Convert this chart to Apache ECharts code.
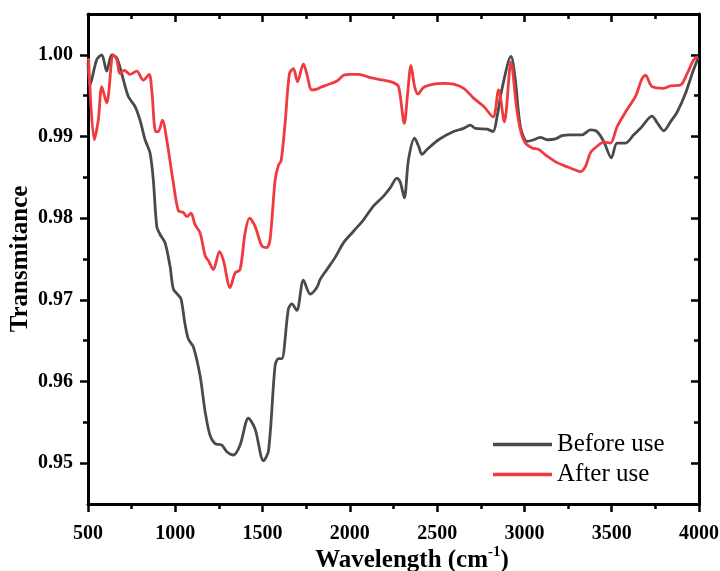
<!DOCTYPE html>
<html>
<head>
<meta charset="utf-8">
<script src="https://cdn.jsdelivr.net/npm/echarts@6/dist/echarts.min.js"></script>
<style>
html,body{margin:0;padding:0;background:#fff;}
#chart{width:720px;height:571px;}
</style>
</head>
<body>
<div id="chart"></div>
<script>
// ---- Data ----
var seriesNames = ['Before use', 'After use'];

var wBefore = [500, 511, 550, 579, 607, 636, 665, 693, 731, 769, 798, 827, 855, 874, 894, 913, 941, 970, 989, 1016, 1033, 1056, 1075, 1104, 1142, 1171, 1199, 1228, 1267, 1295, 1333, 1371, 1419, 1457, 1505, 1534, 1572, 1591, 1610, 1648, 1668, 1696, 1734, 1773, 1811, 1830, 1868, 1916, 1964, 2021, 2078, 2136, 2193, 2231, 2270, 2289, 2312, 2336, 2371, 2394, 2413, 2442, 2508, 2594, 2652, 2690, 2719, 2786, 2820, 2843, 2872, 2923, 2948, 2977, 3015, 3053, 3091, 3130, 3177, 3216, 3263, 3330, 3378, 3416, 3454, 3498, 3531, 3579, 3626, 3665, 3731, 3760, 3798, 3837, 3875, 3923, 3961, 3995];
var tBefore = [0.9990, 0.9963, 0.9994, 1.0000, 0.9980, 1.0000, 0.9996, 0.9977, 0.9949, 0.9937, 0.9920, 0.9896, 0.9880, 0.9847, 0.9790, 0.9780, 0.9770, 0.9741, 0.9713, 0.9706, 0.9701, 0.9670, 0.9652, 0.9642, 0.9607, 0.9563, 0.9534, 0.9524, 0.9522, 0.9514, 0.9510, 0.9522, 0.9555, 0.9542, 0.9503, 0.9515, 0.9620, 0.9628, 0.9628, 0.9689, 0.9695, 0.9687, 0.9724, 0.9707, 0.9715, 0.9725, 0.9737, 0.9752, 0.9770, 0.9784, 0.9798, 0.9815, 0.9827, 0.9837, 0.9849, 0.9844, 0.9825, 0.9872, 0.9898, 0.9888, 0.9878, 0.9884, 0.9896, 0.9906, 0.9910, 0.9914, 0.9910, 0.9909, 0.9906, 0.9924, 0.9959, 0.9998, 0.9969, 0.9912, 0.9894, 0.9896, 0.9899, 0.9896, 0.9897, 0.9901, 0.9902, 0.9902, 0.9908, 0.9906, 0.9894, 0.9874, 0.9892, 0.9892, 0.9902, 0.9910, 0.9925, 0.9917, 0.9907, 0.9918, 0.9930, 0.9953, 0.9977, 0.9996];

var wAfter = [503, 536, 559, 579, 607, 645, 665, 683, 708, 741, 779, 817, 850, 865, 888, 903, 926, 951, 989, 1018, 1046, 1066, 1090, 1113, 1142, 1171, 1190, 1218, 1253, 1276, 1314, 1343, 1371, 1400, 1425, 1457, 1496, 1524, 1543, 1572, 1591, 1606, 1629, 1654, 1677, 1700, 1734, 1753, 1782, 1811, 1830, 1868, 1926, 1964, 2002, 2050, 2117, 2193, 2250, 2279, 2312, 2331, 2350, 2371, 2390, 2422, 2480, 2537, 2594, 2652, 2709, 2766, 2820, 2852, 2885, 2923, 2954, 2977, 3005, 3044, 3082, 3130, 3187, 3244, 3292, 3321, 3349, 3378, 3416, 3454, 3493, 3531, 3588, 3636, 3674, 3693, 3731, 3798, 3837, 3894, 3932, 3970, 3995];
var tAfter = [0.9996, 0.9896, 0.9920, 0.9961, 0.9941, 1.0000, 0.9994, 0.9977, 0.9981, 0.9976, 0.9980, 0.9969, 0.9976, 0.9957, 0.9906, 0.9906, 0.9920, 0.9896, 0.9843, 0.9809, 0.9807, 0.9802, 0.9806, 0.9792, 0.9782, 0.9754, 0.9748, 0.9737, 0.9759, 0.9748, 0.9715, 0.9733, 0.9737, 0.9782, 0.9800, 0.9790, 0.9766, 0.9764, 0.9774, 0.9847, 0.9865, 0.9870, 0.9916, 0.9977, 0.9983, 0.9967, 0.9989, 0.9977, 0.9957, 0.9958, 0.9960, 0.9963, 0.9968, 0.9975, 0.9976, 0.9976, 0.9972, 0.9969, 0.9966, 0.9961, 0.9916, 0.9953, 0.9987, 0.9961, 0.9952, 0.9960, 0.9964, 0.9965, 0.9964, 0.9959, 0.9947, 0.9937, 0.9924, 0.9957, 0.9918, 0.9991, 0.9937, 0.9908, 0.9892, 0.9886, 0.9884, 0.9876, 0.9868, 0.9863, 0.9859, 0.9857, 0.9863, 0.9880, 0.9888, 0.9893, 0.9892, 0.9912, 0.9933, 0.9949, 0.9971, 0.9975, 0.9961, 0.9959, 0.9962, 0.9963, 0.9977, 0.9994, 0.9998];

var yTickValues = [0.95, 0.96, 0.97, 0.98, 0.99, 1.00];
var yMinorValues = [0.955, 0.965, 0.975, 0.985, 0.995];
var xTickLabels = [500, 1000, 1500, 2000, 2500, 3000, 3500, 4000];

// ---- Chart ----
var FONT = '"Liberation Serif", "Times New Roman", serif';
function pairs(xs, ys) { return xs.map(function (x, i) { return [x, ys[i]]; }); }

var chart = echarts.init(document.getElementById('chart'), null, { renderer: 'canvas' });

var axisLine = { show: true, onZero: false, lineStyle: { color: '#000', width: 3 } };

var option = {
  backgroundColor: '#fff',
  animation: false,
  grid: { left: 88, right: 21, top: 14, bottom: 67, containLabel: false, outerBoundsMode: 'none' },
  legend: {
    orient: 'vertical',
    left: 488,
    top: 427,
    icon: 'rect',
    itemWidth: 59,
    itemHeight: 3.5,
    itemGap: 5,
    data: seriesNames,
    textStyle: { fontFamily: FONT, fontSize: 25, color: '#000', lineHeight: 25 }
  },
  xAxis: [
    {
      type: 'value', position: 'bottom', min: 500, max: 4000, interval: 500,
      axisLine: axisLine,
      axisTick: { show: true, inside: false, length: 8, lineStyle: { color: '#000', width: 2.5 } },
      minorTick: { show: true, splitNumber: 2, length: 5, lineStyle: { color: '#000', width: 2.5 } },
      splitLine: { show: false },
      axisLabel: {
        margin: 20, fontFamily: FONT, fontWeight: 'bold', fontSize: 20, color: '#000',
        formatter: function (v) { return xTickLabels.indexOf(v) >= 0 ? String(v) : ''; }
      },
      name: '{a|Wavelength (cm}{s|-1}{a|)}',
      nameLocation: 'middle',
      nameGap: 41,
      nameMoveOverlap: false,
      nameTextStyle: {
        padding: [0, 0, 0, 37],
        rich: {
          a: { fontFamily: FONT, fontWeight: 'bold', fontSize: 25, color: '#000', lineHeight: 28, verticalAlign: 'bottom' },
          s: { fontFamily: FONT, fontWeight: 'bold', fontSize: 15, color: '#000', lineHeight: 15, verticalAlign: 'top' }
        }
      }
    },
    {
      type: 'value', position: 'top', min: 500, max: 4000, interval: 500,
      axisLine: axisLine,
      axisTick: { show: true, inside: true, length: 8, lineStyle: { color: '#000', width: 2.5 } },
      minorTick: { show: true, splitNumber: 2, length: 5, lineStyle: { color: '#000', width: 2.5 } },
      splitLine: { show: false },
      axisLabel: { show: false }
    }
  ],
  yAxis: [
    {
      type: 'value', position: 'left', min: 0.945, max: 1.005,
      axisLine: axisLine,
      axisTick: { show: true, inside: false, length: 8, customValues: yTickValues, lineStyle: { color: '#000', width: 2.5 } },
      splitLine: { show: false },
      axisLabel: {
        customValues: yTickValues,
        margin: 15, fontFamily: FONT, fontWeight: 'bold', fontSize: 20, color: '#000',
        formatter: function (v) { return v.toFixed(2); }
      },
      name: 'Transmitance',
      nameLocation: 'middle',
      nameGap: 55,
      nameMoveOverlap: false,
      nameTextStyle: { fontFamily: FONT, fontWeight: 'bold', fontSize: 25, color: '#000' }
    },
    {
      type: 'value', position: 'left', min: 0.945, max: 1.005,
      axisLine: { show: false },
      axisTick: { show: true, inside: false, length: 5, customValues: yMinorValues, lineStyle: { color: '#000', width: 2.5 } },
      splitLine: { show: false },
      axisLabel: { show: false }
    },
    {
      type: 'value', position: 'right', min: 0.945, max: 1.005,
      axisLine: axisLine,
      axisTick: { show: true, inside: true, length: 8, customValues: yTickValues, lineStyle: { color: '#000', width: 2.5 } },
      splitLine: { show: false },
      axisLabel: { show: false }
    },
    {
      type: 'value', position: 'right', min: 0.945, max: 1.005,
      axisLine: { show: false },
      axisTick: { show: true, inside: true, length: 5, customValues: yMinorValues, lineStyle: { color: '#000', width: 2.5 } },
      splitLine: { show: false },
      axisLabel: { show: false }
    }
  ],
  series: [
    {
      name: seriesNames[0], type: 'line', xAxisIndex: 0, yAxisIndex: 0,
      data: pairs(wBefore, tBefore), symbol: 'none', smooth: 0.3,
      lineStyle: { color: '#4a4a4a', width: 2.8 }, itemStyle: { color: '#4a4a4a' }, z: 3
    },
    {
      name: seriesNames[1], type: 'line', xAxisIndex: 0, yAxisIndex: 0,
      data: pairs(wAfter, tAfter), symbol: 'none', smooth: 0.3,
      lineStyle: { color: '#f03a3f', width: 2.8 }, itemStyle: { color: '#f03a3f' }, z: 4
    }
  ]
};
chart.setOption(option);
</script>
</body>
</html>
